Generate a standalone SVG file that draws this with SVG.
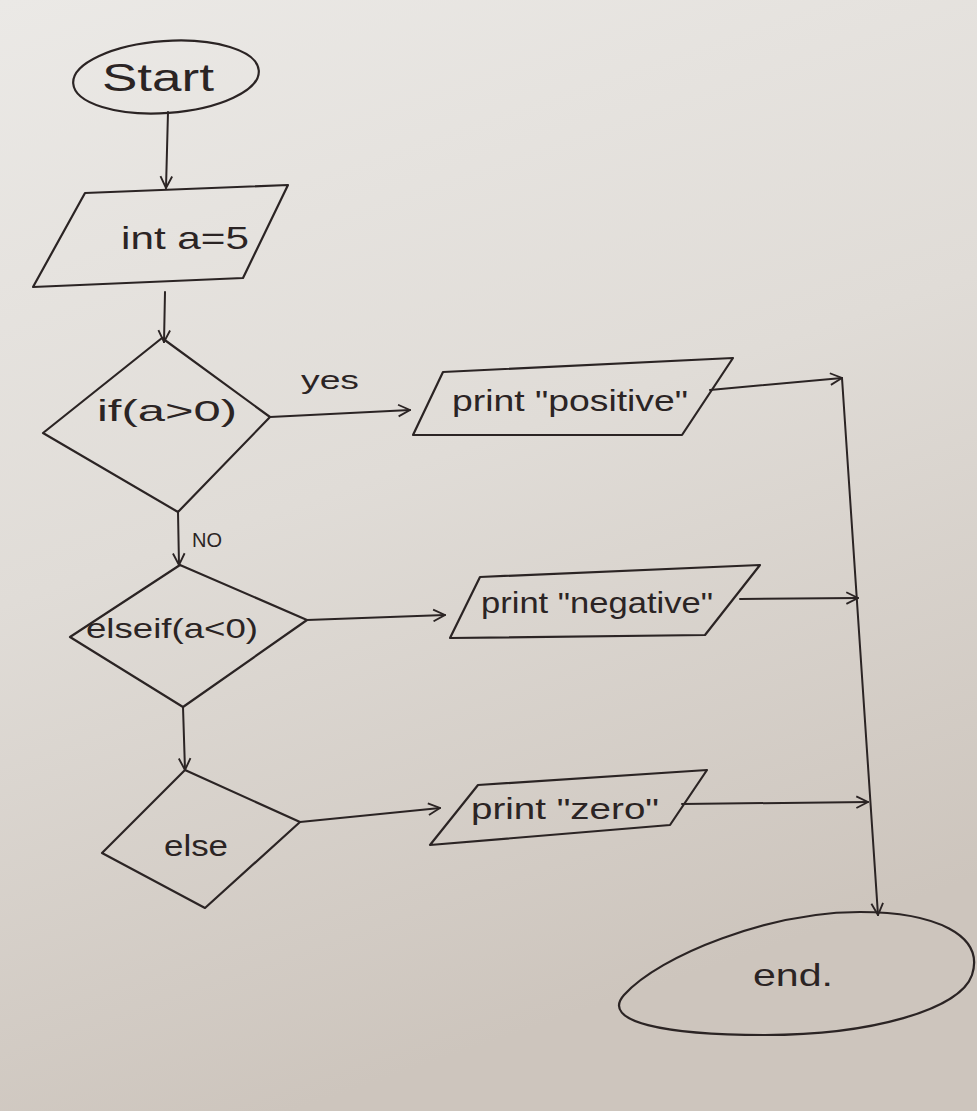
<svg xmlns="http://www.w3.org/2000/svg" width="977" height="1111" viewBox="0 0 977 1111">
<defs>
<linearGradient id="paper" x1="0" y1="0" x2="0.3" y2="1">
<stop offset="0" stop-color="#ebe9e6"/>
<stop offset="0.5" stop-color="#e0dcd7"/>
<stop offset="1" stop-color="#cdc5bd"/>
</linearGradient>
<marker id="arr" viewBox="0 0 12 12" refX="11" refY="6" markerWidth="14" markerHeight="14" markerUnits="userSpaceOnUse" orient="auto">
<path d="M1,1 L11,6 L1,11" fill="none" stroke="#2b2424" stroke-width="1.6"/>
</marker>
<style>
.s{fill:none;stroke:#2b2424;stroke-width:2.2;stroke-linejoin:round;stroke-linecap:round}
.c{fill:none;stroke:#2b2424;stroke-width:2;stroke-linecap:round;marker-end:url(#arr)}
.t{font-family:"Liberation Sans","DejaVu Sans",sans-serif;fill:#2b2424;text-anchor:middle;dominant-baseline:central}
</style>
</defs>
<rect x="0" y="0" width="977" height="1111" fill="url(#paper)"/>

<g id="start">
<ellipse class="s" cx="166" cy="77" rx="93" ry="36" transform="rotate(-4 166 77)"/>
<text class="t" x="158" y="78" font-size="38" textLength="112" lengthAdjust="spacingAndGlyphs">Start</text>
</g>

<g id="init">
<polygon class="s" points="85,193 288,185 243,278 33,287"/>
<text class="t" x="185" y="238" font-size="32" textLength="128" lengthAdjust="spacingAndGlyphs">int a=5</text>
</g>

<g id="cond1">
<polygon class="s" points="162,338 270,417 178,512 43,433"/>
<text class="t" x="167" y="410" font-size="30" textLength="140" lengthAdjust="spacingAndGlyphs">if(a&gt;0)</text>
</g>

<g id="cond2">
<polygon class="s" points="180,565 307,620 183,707 70,637"/>
<text class="t" x="172" y="628" font-size="28" textLength="172" lengthAdjust="spacingAndGlyphs">elseif(a&lt;0)</text>
</g>

<g id="cond3">
<polygon class="s" points="185,770 300,822 205,908 102,853"/>
<text class="t" x="196" y="845" font-size="30" textLength="64" lengthAdjust="spacingAndGlyphs">else</text>
</g>

<g id="positive">
<polygon class="s" points="443,372 733,358 682,435 413,435"/>
<text class="t" x="570" y="400" font-size="30" textLength="236" lengthAdjust="spacingAndGlyphs">print "positive"</text>
</g>

<g id="negative">
<polygon class="s" points="480,577 760,565 705,635 450,638"/>
<text class="t" x="597" y="602" font-size="30" textLength="232" lengthAdjust="spacingAndGlyphs">print "negative"</text>
</g>

<g id="zero">
<polygon class="s" points="478,785 707,770 670,825 430,845"/>
<text class="t" x="565" y="808" font-size="30" textLength="188" lengthAdjust="spacingAndGlyphs">print "zero"</text>
</g>

<g id="end">
<path class="s" d="M 860 912 C 935 912, 985 935, 972 975 C 960 1010, 870 1035, 765 1035 C 665 1035, 600 1022, 624 995 C 660 955, 770 912, 860 912 Z"/>
<text class="t" x="793" y="975" font-size="32" textLength="80" lengthAdjust="spacingAndGlyphs">end.</text>
</g>

<g id="connectors">
<line class="c" x1="168" y1="112" x2="166" y2="188"/>
<line class="c" x1="165" y1="292" x2="164" y2="342"/>
<line class="c" x1="270" y1="417" x2="410" y2="410"/>
<text class="t" x="330" y="380" font-size="26" textLength="58" lengthAdjust="spacingAndGlyphs">yes</text>
<line class="c" x1="178" y1="512" x2="179" y2="565"/>
<text class="t" x="207" y="540" font-size="20">NO</text>
<line class="c" x1="307" y1="620" x2="445" y2="615"/>
<line class="c" x1="183" y1="707" x2="185" y2="770"/>
<line class="c" x1="300" y1="822" x2="440" y2="808"/>
<line class="c" x1="710" y1="390" x2="842" y2="378"/>
<line class="c" x1="740" y1="599" x2="858" y2="598"/>
<line class="c" x1="682" y1="804" x2="868" y2="802"/>
<line class="c" x1="842" y1="378" x2="878" y2="915"/>
</g>
</svg>
